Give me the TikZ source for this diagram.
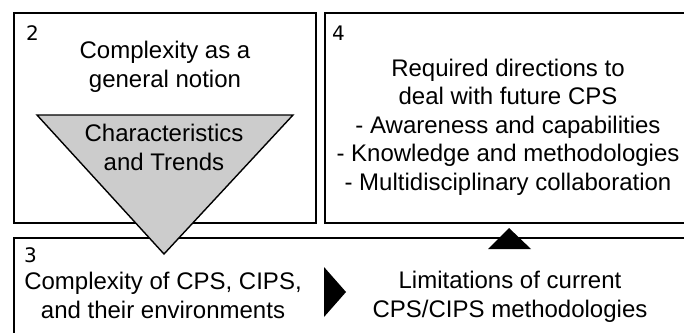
\documentclass[tikz,border=0pt]{standalone}
\usepackage{fontspec}
\setmainfont{Liberation Sans}
\newfontfamily\ziffern{DejaVu Sans}
\definecolor{Grau}{RGB}{204,204,204}

\begin{document}
\begin{tikzpicture}[x=1pt, y=-1pt,
  Rahmen/.style={draw=black, line width=1.6pt},
  Dreieck/.style={draw=black, line width=1.4pt, fill=Grau, line join=miter},
  Marke/.style={fill=black},
  Schrift/.style={align=center, inner sep=0pt, anchor=base, font=\fontsize{24}{28.5}\selectfont},
  Nummer/.style={inner sep=0pt, anchor=base west, font=\ziffern\fontsize{20}{20}\selectfont}]
\useasboundingbox (0,0) rectangle (684,332);
\clip (0,0) rectangle (684,332);
% frames, the two on the right run off the page
\draw[Rahmen] (14,13) rectangle (316,223);
\draw[Rahmen] (700,13) -- (325,13) -- (325,223) -- (700,223);
\draw[Rahmen] (700,238) -- (14,238) -- (14,350);
% funnel from 2 down into 3
\coordinate (tl) at (37,115);
\coordinate (tr) at (293,115);
\coordinate (tip) at (164,254);
\draw[Dreieck] (tl) -- (tr) -- (tip) -- cycle;
% small black markers
\coordinate (r1) at (324,267);
\coordinate (r2) at (324,317);
\coordinate (r3) at (346,292);
\fill[Marke] (r1) -- (r2) -- (r3) -- cycle;
\coordinate (u1) at (488,249);
\coordinate (u2) at (531,249);
\coordinate (u3) at (509,228);
\fill[Marke] (u1) -- (u2) -- (u3) -- cycle;
% numbers and texts (base = last line)
\node[Nummer] (n2) at (26,40) {2};
\node[Nummer] (n4) at (332,40) {4};
\node[Nummer] (n3) at (24,262) {3};
\node[Schrift] (notion) at (165,87) {Complexity as a\\general notion};
\node[Schrift] (trends) at (164,170) {Characteristics\\and Trends};
\node[Schrift] (future) at (508,190) {Required directions to\\deal with future CPS\\- Awareness and capabilities\\- Knowledge and methodologies\\- Multidisciplinary collaboration};
\node[Schrift] (cps) at (163,318) {Complexity of CPS, CIPS,\\and their environments};
\node[Schrift] (limits) at (510,317) {Limitations of current\\CPS/CIPS methodologies};
\end{tikzpicture}
\end{document}
